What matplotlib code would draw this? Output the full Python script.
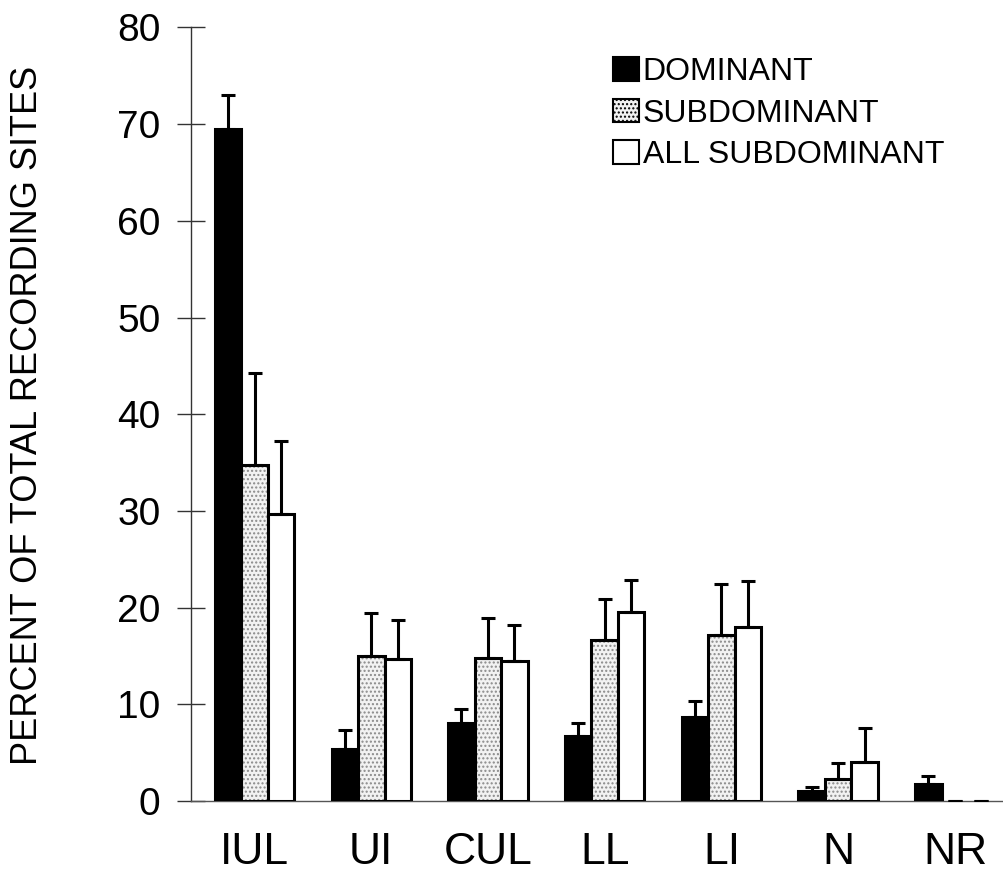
import matplotlib
matplotlib.use("Agg")
import matplotlib.pyplot as plt
import numpy as np
from matplotlib import font_manager
from matplotlib.patches import Patch

# Percent of recording sites per receptive-field category
categories = ["IUL", "UI", "CUL", "LL", "LI", "N", "NR"]
dominant = [69.5, 5.4, 8.1, 6.7, 8.7, 1.0, 1.8]
dominant_err = [3.5, 1.9, 1.4, 1.4, 1.6, 0.4, 0.8]
subdominant = [34.7, 15.0, 14.8, 16.7, 17.2, 2.3, 0.0]
subdominant_err = [9.6, 4.4, 4.1, 4.2, 5.2, 1.6, 0.0]
all_subdominant = [29.7, 14.7, 14.5, 19.5, 18.0, 4.0, 0.0]
all_subdominant_err = [7.5, 4.0, 3.7, 3.4, 4.8, 3.5, 0.0]
yticks = [0, 10, 20, 30, 40, 50, 60, 70, 80]

installed = {f.name for f in font_manager.fontManager.ttflist}
narrow = "Liberation Sans Narrow" if "Liberation Sans Narrow" in installed else "Liberation Sans"
plt.rcParams["font.family"] = ["Liberation Sans", "DejaVu Sans"]
plt.rcParams["hatch.linewidth"] = 1.0

W, H = 1004, 881
fig = plt.figure(figsize=(W / 100, H / 100), dpi=100)
ax = fig.add_axes([191 / W, 80 / H, 1 - 191 / W, 773.5 / H])

x = np.arange(len(categories))
bw = 0.227
edge_lw = 2.2


def draw_series(offset, vals, errs, face, hatch=None):
    pos = x + offset
    lws = [edge_lw if v > 0 else 0 for v in vals]
    if hatch:
        # stipple fill first, then the black outline on top
        ax.bar(pos, vals, bw, color=face, hatch=hatch, edgecolor="#8a8a8a",
               linewidth=0, zorder=2)
        ax.bar(pos, vals, bw, fill=False, edgecolor="black", linewidth=lws, zorder=3)
    else:
        ax.bar(pos, vals, bw, color=face, edgecolor="black", linewidth=lws, zorder=3)
    ax.errorbar(pos, vals, yerr=[np.zeros(len(vals)), errs], fmt="none",
                ecolor="black", elinewidth=2.2, capsize=5, capthick=2.2, zorder=4)


draw_series(-bw, dominant, dominant_err, "black")
draw_series(0, subdominant, subdominant_err, "#f2f2f2", hatch="....")
draw_series(bw, all_subdominant, all_subdominant_err, "white")

ax.set_xlim(-0.544, 6.42)
ax.set_ylim(0, 80)
ax.set_yticks(yticks)
ax.set_xticks(x)
ax.set_xticklabels(categories, fontsize=32, family=[narrow, "DejaVu Sans"])
ax.tick_params(axis="x", length=0, pad=22)
ax.tick_params(axis="y", direction="inout", length=20, width=1.0, pad=12,
               labelsize=28, color="#333333")

for side in ("top", "right"):
    ax.spines[side].set_visible(False)
ax.spines["left"].set_linewidth(1.0)
ax.spines["left"].set_color("#333333")
ax.spines["bottom"].set_linewidth(1.0)
ax.spines["bottom"].set_color("#555555")

fig.text(28 / W, 1 - 415 / H, "PERCENT OF TOTAL RECORDING SITES", rotation=90,
         ha="center", va="center", fontsize=26)

handles = [
    Patch(facecolor="black", edgecolor="black", linewidth=1.5),
    Patch(facecolor="#f2f2f2", edgecolor="black", hatch="....", linewidth=1.5),
    Patch(facecolor="white", edgecolor="black", linewidth=1.5),
]
ax.legend(handles, ["DOMINANT", "SUBDOMINANT", "ALL SUBDOMINANT"],
          loc="upper left", bbox_to_anchor=(613 / W, 1 - 57 / H),
          bbox_transform=fig.transFigure, frameon=False, fontsize=23,
          handlelength=0.81, handleheight=0.75, handletextpad=0.12,
          labelspacing=0.36, borderpad=0, borderaxespad=0)

fig.savefig("out.png", dpi=100)
